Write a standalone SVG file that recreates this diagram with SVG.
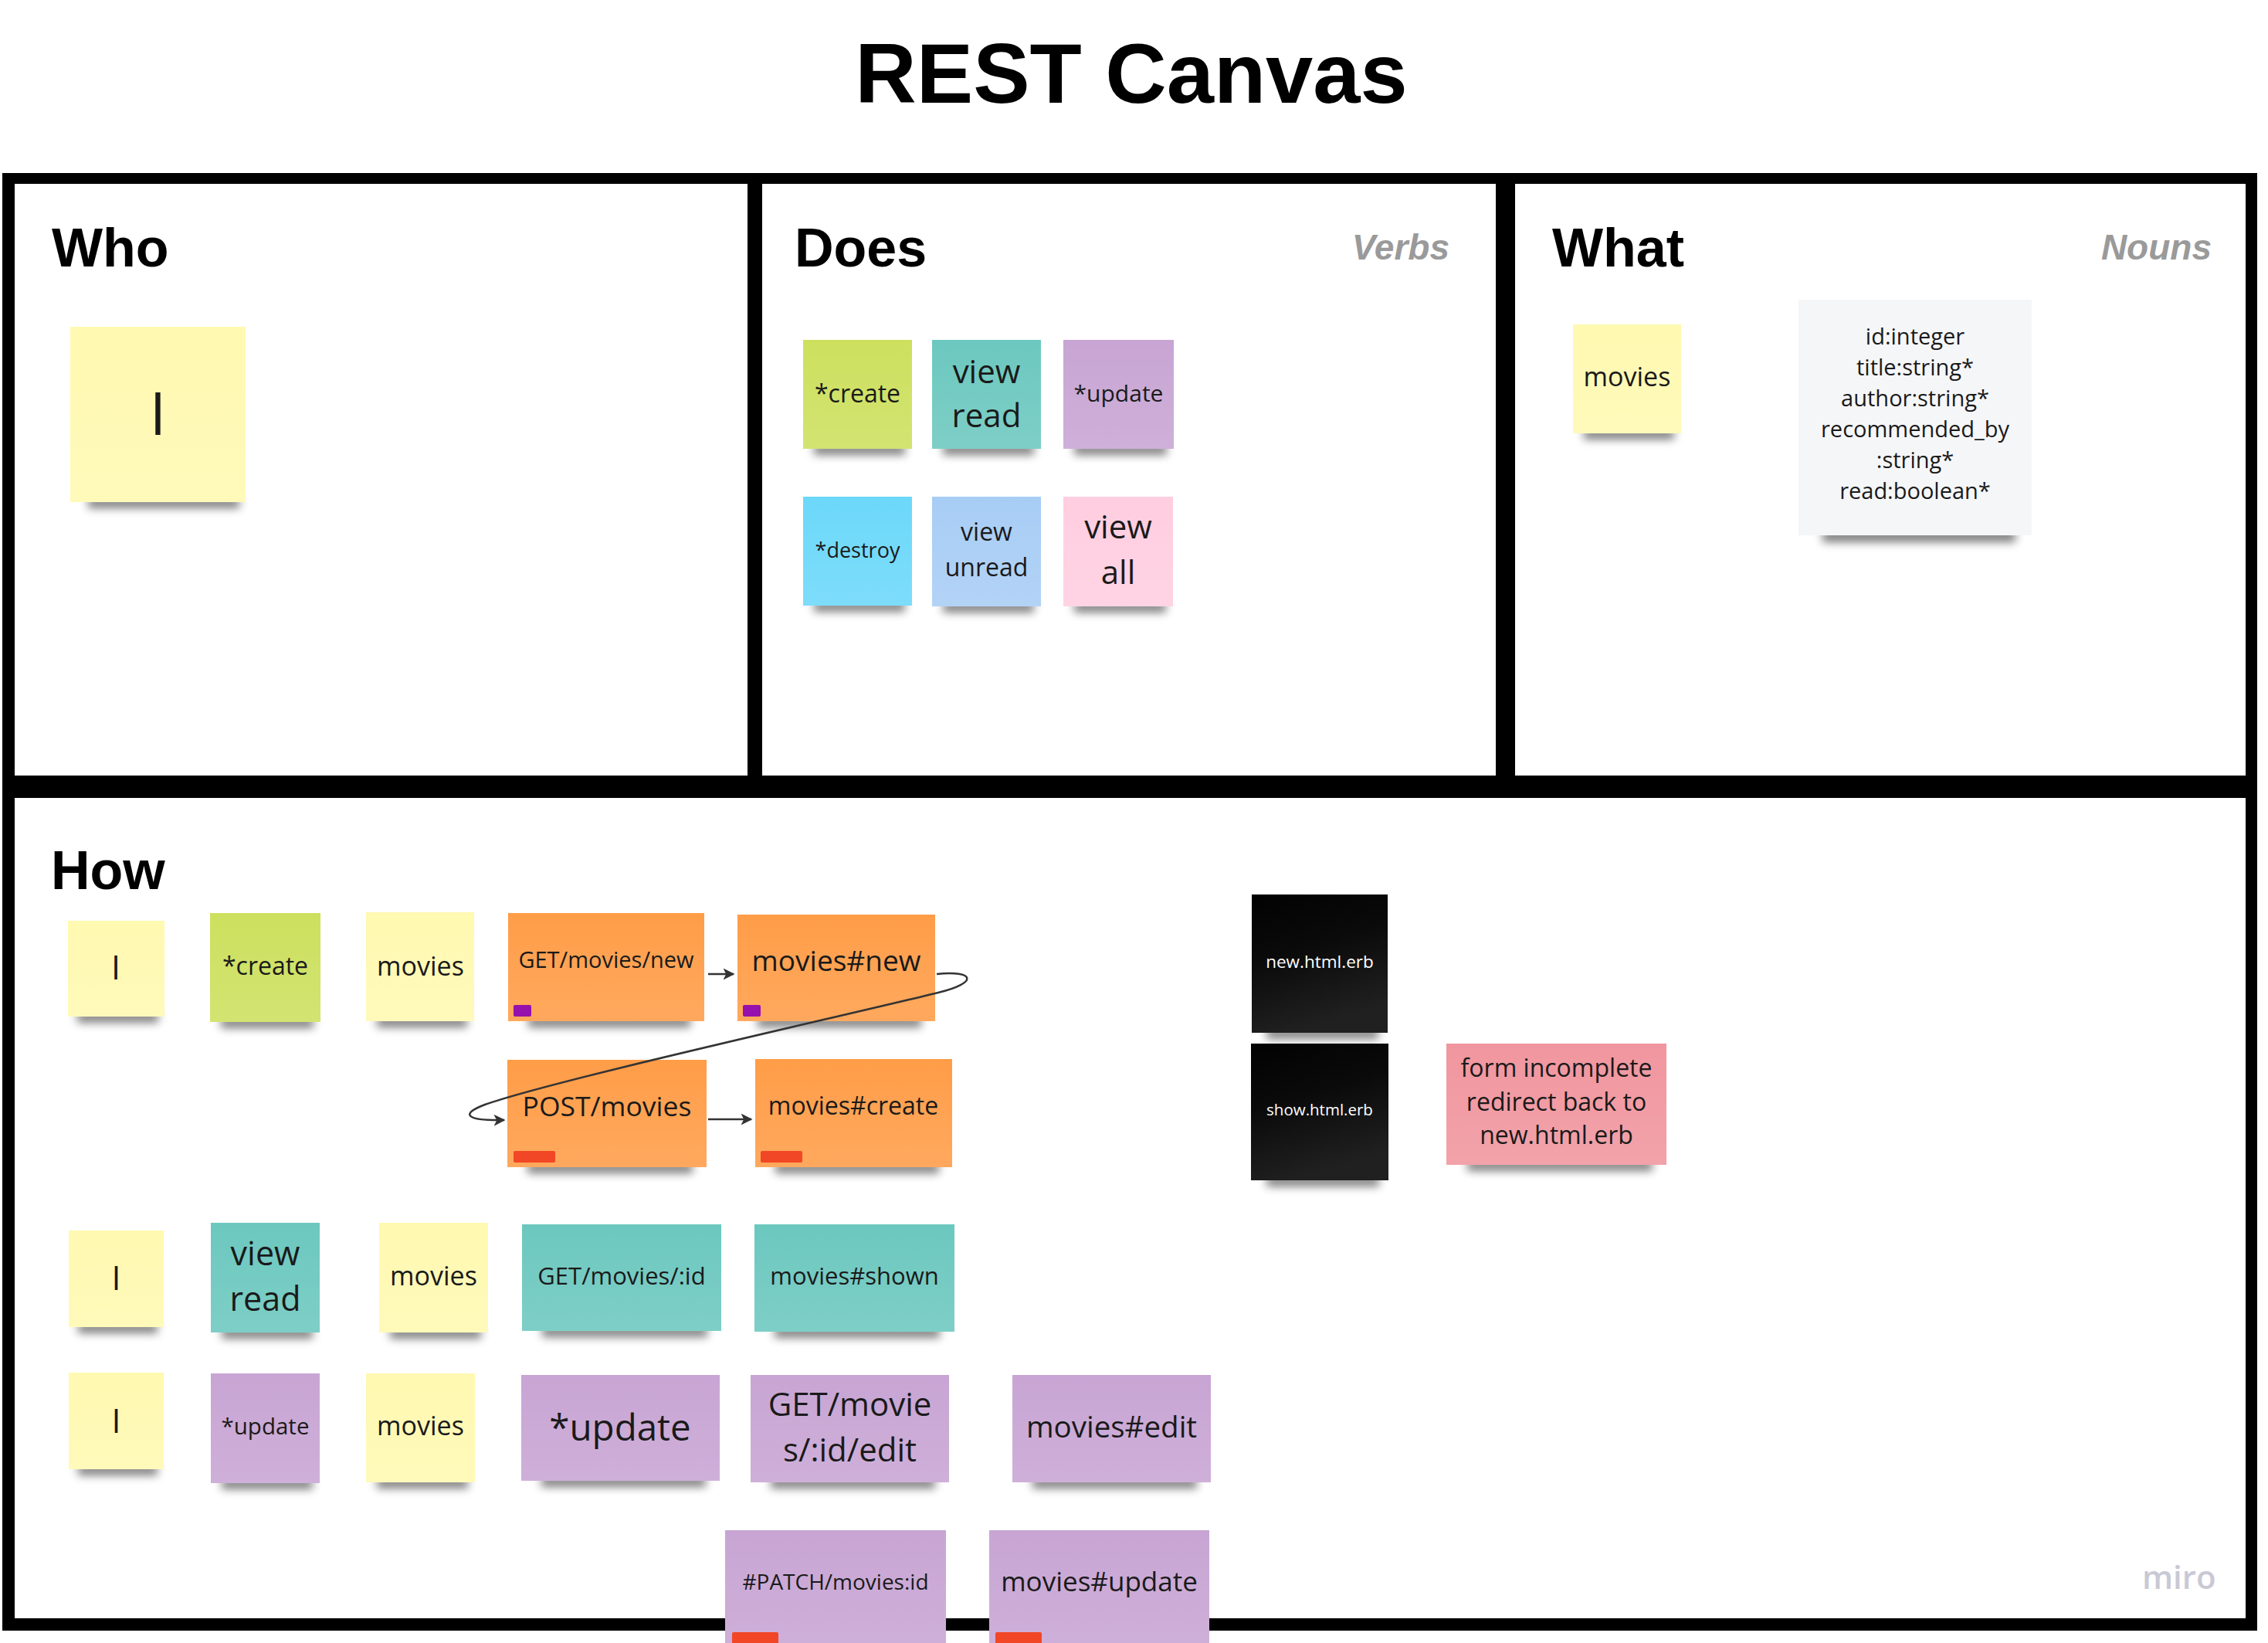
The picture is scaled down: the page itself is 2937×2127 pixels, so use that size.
<svg xmlns="http://www.w3.org/2000/svg" width="2937" height="2127" viewBox="0 0 2937 2127">
<style>
.hd{font-family:"Liberation Sans",Arial,sans-serif;font-weight:bold;fill:#000}
.sub{font-family:"Liberation Sans",Arial,sans-serif;font-weight:bold;font-style:italic;fill:#9a9a9a}
.t{font-family:"Open Sans","Noto Sans",sans-serif;fill:#1a1a1a;text-anchor:middle}
.w{fill:#ffffff}
.shd{fill:#000;opacity:.5;filter:url(#blur)}
.y{fill:#fff9b1}.lime{fill:#cde05e}.teal{fill:#6cc8bf}.pur{fill:#c8a5d4}
.dblue{fill:#6cd8fa}.lblue{fill:#a8cdf5}.lpink{fill:#ffcee0}.or{fill:#ff9d48}
.pink{fill:#f1969f}.gray{fill:#f5f6f8}.blk{fill:url(#bk)}
.mkp{fill:#9510ac}.mkr{fill:#f24726}
.sheen{fill:url(#sh)}
.conn{fill:none;stroke:#333;stroke-width:2.5}
</style>
<defs>
<filter id="blur" x="-20%" y="-200%" width="140%" height="500%"><feGaussianBlur stdDeviation="6"/></filter>
<linearGradient id="sh" x1="0" y1="0" x2="0" y2="1"><stop offset="0" stop-color="#fff" stop-opacity="0"/><stop offset="1" stop-color="#fff" stop-opacity="0.12"/></linearGradient>
<linearGradient id="bk" x1="0" y1="0" x2="0.3" y2="1"><stop offset="0" stop-color="#020202"/><stop offset="0.45" stop-color="#0a0a0a"/><stop offset="1" stop-color="#202020"/></linearGradient>
<marker id="arr" viewBox="0 0 10 10" refX="9" refY="5" markerWidth="15" markerHeight="15" markerUnits="userSpaceOnUse" orient="auto"><path d="M0,0 L10,5 L0,10 L2.5,5 z" fill="#333"/></marker>
</defs>
<rect width="2937" height="2127" fill="#fff"/>
<text class="hd" x="1465" y="133" font-size="110" text-anchor="middle">REST Canvas</text>
<g id="frame">
<rect x="3" y="224" width="2920" height="1887" fill="#000"/>
<rect x="19" y="238" width="949" height="766" fill="#fff"/>
<rect x="987" y="238" width="950" height="766" fill="#fff"/>
<rect x="1962" y="238" width="946" height="766" fill="#fff"/>
<rect x="19" y="1033" width="2889" height="1062" fill="#fff"/>
<text class="hd" x="67" y="345" font-size="70">Who</text>
<text class="hd" x="1029" y="345" font-size="70">Does</text>
<text class="sub" x="1877" y="336" font-size="46" text-anchor="end">Verbs</text>
<text class="hd" x="2010" y="345" font-size="70">What</text>
<text class="sub" x="2864" y="336" font-size="46" text-anchor="end">Nouns</text>
<text class="hd" x="66" y="1151" font-size="70">How</text>
<text x="2774" y="2057" font-size="42" font-family="'Open Sans','Noto Sans',sans-serif" font-weight="600" fill="#c9c9d5">miro</text>
</g>
<g id="who-I"><rect class="shd" x="114" y="644" width="196" height="14"/><rect class="y" x="91" y="423" width="227" height="227"/><rect class="sheen" x="91" y="423" width="227" height="227"/><text class="t" x="204.5" y="563" font-size="77">I</text></g>
<g id="does-create"><rect class="shd" x="1054" y="575" width="118" height="14"/><rect class="lime" x="1040" y="440" width="141" height="141"/><rect class="sheen" x="1040" y="440" width="141" height="141"/><text class="t" x="1110.5" y="521" font-size="32">*create</text></g>
<g id="does-view-read"><rect class="shd" x="1221" y="575" width="118" height="14"/><rect class="teal" x="1207" y="440" width="141" height="141"/><rect class="sheen" x="1207" y="440" width="141" height="141"/><text class="t" x="1277.5" y="496" font-size="42">view</text><text class="t" x="1277.5" y="553" font-size="42">read</text></g>
<g id="does-update"><rect class="shd" x="1391" y="575" width="120" height="14"/><rect class="pur" x="1377" y="440" width="143" height="141"/><rect class="sheen" x="1377" y="440" width="143" height="141"/><text class="t" x="1448.5" y="520" font-size="30">*update</text></g>
<g id="does-destroy"><rect class="shd" x="1054" y="778" width="118" height="14"/><rect class="dblue" x="1040" y="643" width="141" height="141"/><rect class="sheen" x="1040" y="643" width="141" height="141"/><text class="t" x="1110.5" y="722" font-size="27">*destroy</text></g>
<g id="does-view-unread"><rect class="shd" x="1221" y="779" width="118" height="14"/><rect class="lblue" x="1207" y="643" width="141" height="142"/><rect class="sheen" x="1207" y="643" width="141" height="142"/><text class="t" x="1277.5" y="700" font-size="32">view</text><text class="t" x="1277.5" y="746" font-size="32">unread</text></g>
<g id="does-view-all"><rect class="shd" x="1391" y="779" width="119" height="14"/><rect class="lpink" x="1377" y="643" width="142" height="142"/><rect class="sheen" x="1377" y="643" width="142" height="142"/><text class="t" x="1448" y="697" font-size="42">view</text><text class="t" x="1448" y="756" font-size="42">all</text></g>
<g id="what-movies"><rect class="shd" x="2051" y="555" width="117" height="14"/><rect class="y" x="2037" y="420" width="140" height="141"/><rect class="sheen" x="2037" y="420" width="140" height="141"/><text class="t" x="2107" y="500" font-size="34">movies</text></g>
<g id="what-attributes"><rect class="shd" x="2360" y="686" width="250" height="16"/><rect class="gray" x="2329" y="388" width="302" height="305"/><text class="t" x="2480" y="446" font-size="29">id:integer</text><text class="t" x="2480" y="486" font-size="29">title:string*</text><text class="t" x="2480" y="526" font-size="29">author:string*</text><text class="t" x="2480" y="566" font-size="29">recommended_by</text><text class="t" x="2480" y="606" font-size="29">:string*</text><text class="t" x="2480" y="646" font-size="29">read:boolean*</text></g>
<g id="how-I-1"><rect class="shd" x="100" y="1310" width="105" height="14"/><rect class="y" x="88" y="1192" width="125" height="124"/><rect class="sheen" x="88" y="1192" width="125" height="124"/><text class="t" x="150" y="1268" font-size="43">I</text></g>
<g id="how-create"><rect class="shd" x="286" y="1317" width="120" height="14"/><rect class="lime" x="272" y="1182" width="143" height="141"/><rect class="sheen" x="272" y="1182" width="143" height="141"/><text class="t" x="343.5" y="1262" font-size="32">*create</text></g>
<g id="how-movies-1"><rect class="shd" x="488" y="1316" width="117" height="14"/><rect class="y" x="474" y="1181" width="140" height="141"/><rect class="sheen" x="474" y="1181" width="140" height="141"/><text class="t" x="544.5" y="1263" font-size="34">movies</text></g>
<g id="how-get-new"><rect class="shd" x="684" y="1316" width="210" height="14"/><rect class="or" x="658" y="1182" width="254" height="140"/><rect class="sheen" x="658" y="1182" width="254" height="140"/><rect class="mkp" x="665" y="1301" width="23" height="15" rx="2"/><text class="t" x="785" y="1253" font-size="29">GET/movies/new</text></g>
<g id="how-movies-new"><rect class="shd" x="981" y="1316" width="212" height="14"/><rect class="or" x="955" y="1184" width="256" height="138"/><rect class="sheen" x="955" y="1184" width="256" height="138"/><rect class="mkp" x="962" y="1301" width="23" height="15" rx="2"/><text class="t" x="1083" y="1257" font-size="37">movies#new</text></g>
<g id="how-post-movies"><rect class="shd" x="683" y="1505" width="214" height="14"/><rect class="or" x="657" y="1372" width="258" height="139"/><rect class="sheen" x="657" y="1372" width="258" height="139"/><rect class="mkr" x="665" y="1490" width="54" height="15" rx="2"/><text class="t" x="786" y="1445" font-size="35.5">POST/movies</text></g>
<g id="how-movies-create"><rect class="shd" x="1004" y="1505" width="212" height="14"/><rect class="or" x="978" y="1371" width="255" height="140"/><rect class="sheen" x="978" y="1371" width="255" height="140"/><rect class="mkr" x="985" y="1490" width="54" height="15" rx="2"/><text class="t" x="1105" y="1443" font-size="32">movies#create</text></g>
<g id="new-html-erb"><rect class="shd" x="1640" y="1331" width="145" height="14"/><rect class="blk" x="1621" y="1158" width="176" height="179"/><text class="t w" x="1709" y="1253" font-size="22.5">new.html.erb</text></g>
<g id="show-html-erb"><rect class="shd" x="1640" y="1522" width="146" height="14"/><rect class="blk" x="1620" y="1351" width="178" height="177"/><text class="t w" x="1709" y="1444" font-size="20.5">show.html.erb</text></g>
<g id="form-incomplete"><rect class="shd" x="1900" y="1502" width="240" height="14"/><rect class="pink" x="1873" y="1351" width="285" height="157"/><rect class="sheen" x="1873" y="1351" width="285" height="157"/><text class="t" x="2015.5" y="1394" font-size="32">form incomplete</text><text class="t" x="2015.5" y="1438" font-size="32">redirect back to</text><text class="t" x="2015.5" y="1481" font-size="32">new.html.erb</text></g>
<g id="how-I-2"><rect class="shd" x="101" y="1712" width="103" height="14"/><rect class="y" x="89" y="1593" width="123" height="125"/><rect class="sheen" x="89" y="1593" width="123" height="125"/><text class="t" x="150.5" y="1670" font-size="43">I</text></g>
<g id="how-view-read"><rect class="shd" x="287" y="1719" width="118" height="14"/><rect class="teal" x="273" y="1583" width="141" height="142"/><rect class="sheen" x="273" y="1583" width="141" height="142"/><text class="t" x="343.5" y="1638" font-size="43">view</text><text class="t" x="343.5" y="1697" font-size="43">read</text></g>
<g id="how-movies-2"><rect class="shd" x="505" y="1719" width="118" height="14"/><rect class="y" x="491" y="1583" width="141" height="142"/><rect class="sheen" x="491" y="1583" width="141" height="142"/><text class="t" x="561.5" y="1664" font-size="34">movies</text></g>
<g id="how-get-id"><rect class="shd" x="702" y="1717" width="214" height="14"/><rect class="teal" x="676" y="1585" width="258" height="138"/><rect class="sheen" x="676" y="1585" width="258" height="138"/><text class="t" x="805" y="1663" font-size="31">GET/movies/:id</text></g>
<g id="how-movies-shown"><rect class="shd" x="1003" y="1718" width="214" height="14"/><rect class="teal" x="977" y="1585" width="259" height="139"/><rect class="sheen" x="977" y="1585" width="259" height="139"/><text class="t" x="1106.5" y="1663" font-size="31">movies#shown</text></g>
<g id="how-I-3"><rect class="shd" x="101" y="1896" width="103" height="14"/><rect class="y" x="89" y="1777" width="123" height="125"/><rect class="sheen" x="89" y="1777" width="123" height="125"/><text class="t" x="150.5" y="1855" font-size="43">I</text></g>
<g id="how-update-small"><rect class="shd" x="287" y="1914" width="118" height="14"/><rect class="pur" x="273" y="1778" width="141" height="142"/><rect class="sheen" x="273" y="1778" width="141" height="142"/><text class="t" x="343.5" y="1857" font-size="29.5">*update</text></g>
<g id="how-movies-3"><rect class="shd" x="488" y="1913" width="118" height="14"/><rect class="y" x="474" y="1778" width="141" height="141"/><rect class="sheen" x="474" y="1778" width="141" height="141"/><text class="t" x="544.5" y="1858" font-size="34">movies</text></g>
<g id="how-update-big"><rect class="shd" x="701" y="1911" width="213" height="14"/><rect class="pur" x="675" y="1780" width="257" height="137"/><rect class="sheen" x="675" y="1780" width="257" height="137"/><text class="t" x="803" y="1865" font-size="47.5">*update</text></g>
<g id="how-get-edit"><rect class="shd" x="998" y="1913" width="213" height="14"/><rect class="pur" x="972" y="1780" width="257" height="139"/><rect class="sheen" x="972" y="1780" width="257" height="139"/><text class="t" x="1100.5" y="1833" font-size="42">GET/movie</text><text class="t" x="1100.5" y="1892" font-size="42">s/:id/edit</text></g>
<g id="how-movies-edit"><rect class="shd" x="1337" y="1913" width="213" height="14"/><rect class="pur" x="1311" y="1780" width="257" height="139"/><rect class="sheen" x="1311" y="1780" width="257" height="139"/><text class="t" x="1439.5" y="1861" font-size="38.5">movies#edit</text></g>
<g id="how-patch"><rect class="pur" x="939" y="1981" width="286" height="150"/><rect class="sheen" x="939" y="1981" width="286" height="150"/><rect class="mkr" x="948" y="2113" width="60" height="20" rx="2"/><text class="t" x="1082" y="2058" font-size="28">#PATCH/movies:id</text></g>
<g id="how-movies-update"><rect class="pur" x="1281" y="1981" width="285" height="150"/><rect class="sheen" x="1281" y="1981" width="285" height="150"/><rect class="mkr" x="1289" y="2113" width="60" height="20" rx="2"/><text class="t" x="1423.5" y="2060" font-size="35">movies#update</text></g>
<g id="connectors">
<path class="conn" d="M917,1261 L950,1261" marker-end="url(#arr)"/>
<path class="conn" d="M917,1449 L973,1449" marker-end="url(#arr)"/>
<path class="conn" d="M1213,1261 C1262,1256 1268,1272 1215,1285 C1080,1318 720,1398 628,1430 C596,1442 602,1451 653,1450" marker-end="url(#arr)"/>
</g>
</svg>
